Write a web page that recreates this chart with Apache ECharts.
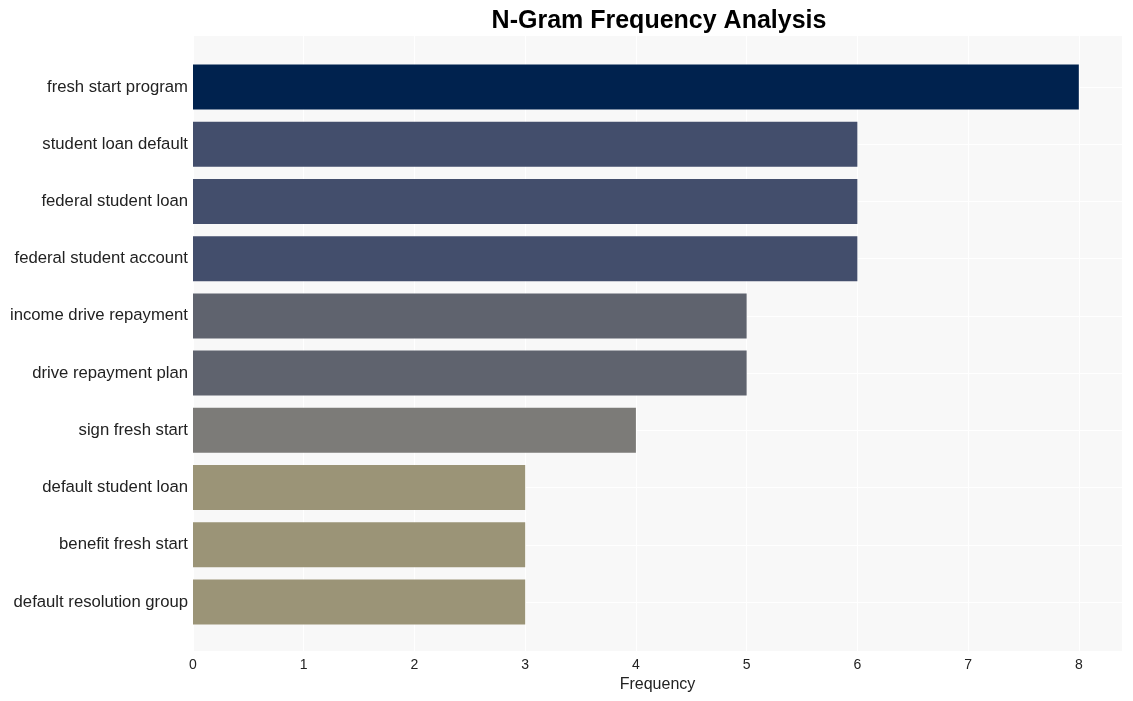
<!DOCTYPE html>
<html><head><meta charset="utf-8">
<script src="https://cdn.jsdelivr.net/npm/echarts@6/dist/echarts.min.js"></script>
<style>html,body{margin:0;padding:0;background:#fff}#c{width:1133px;height:701px}</style>
</head><body><div id="c"></div>
<script>
const categories = ["fresh start program","student loan default","federal student loan","federal student account","income drive repayment","drive repayment plan","sign fresh start","default student loan","benefit fresh start","default resolution group"];
const values = [8,6,6,6,5,5,4,3,3,3];
const xTicks = [0,1,2,3,4,5,6,7,8];

const palette = {8:'#00224e',6:'#434e6c',5:'#5f636e',4:'#7c7b78',3:'#9b9477'};
const xMax = 8.39;
const font = '"Liberation Sans", Arial, sans-serif';

const chart = echarts.init(document.getElementById('c'), null, {renderer:'canvas'});
chart.setOption({
  animation:false,
  title:{text:'N-Gram Frequency Analysis',left:654,top:4,textAlign:'center',
    textStyle:{fontFamily:font,fontSize:25,fontWeight:'bold',color:'#000'}},
  grid:[
    {left:193,right:11,top:36,bottom:50,show:true,backgroundColor:'#f8f8f8',borderWidth:0,containLabel:false},
    {left:193,right:11,top:87,bottom:99,containLabel:false}
  ],
  xAxis:[
    {type:'value',gridIndex:0,min:0,max:xMax,interval:1,
      name:'Frequency',nameLocation:'middle',nameGap:26,
      nameTextStyle:{fontFamily:font,fontSize:16,color:'#222'},
      axisLine:{show:false},axisTick:{show:false},
      axisLabel:{fontFamily:font,fontSize:14,color:'#222',margin:7,showMaxLabel:false,
        formatter:v=> xTicks.includes(v)?String(v):''},
      splitLine:{show:true,lineStyle:{color:'#ffffff',width:1.2}}},
    {type:'value',gridIndex:1,min:0,max:xMax,show:false,splitLine:{show:false}}
  ],
  yAxis:[
    {type:'value',gridIndex:0,show:false,splitLine:{show:false}},
    {type:'category',gridIndex:1,data:categories,inverse:true,boundaryGap:false,
      axisLine:{show:false},axisTick:{show:false},
      axisLabel:{fontFamily:font,fontSize:16.7,color:'#222',margin:5,padding:[4,0,0,0]},
      splitLine:{show:true,lineStyle:{color:'#ffffff',width:1.2}}}
  ],
  series:[{
    type:'bar',xAxisIndex:1,yAxisIndex:1,barWidth:45,clip:false,
    data:values.map(v=>({value:v,itemStyle:{color:palette[v]}}))
  }]
});
</script></body></html>
